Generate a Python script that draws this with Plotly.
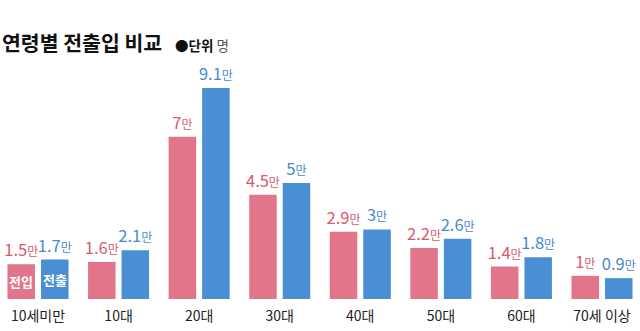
import plotly.graph_objects as go

categories = ["10세미만", "10대", "20대", "30대", "40대", "50대", "60대", "70세 이상"]
move_in = [1.5, 1.6, 7, 4.5, 2.9, 2.2, 1.4, 1]
move_out = [1.7, 2.1, 9.1, 5, 3, 2.6, 1.8, 0.9]
series_names = ["전입", "전출"]
title_text = "연령별 전출입 비교"
unit_text = "●단위"
unit_word = "명"

PINK_BAR = "#e3758a"
BLUE_BAR = "#4a8fd3"
PINK_TXT = "#d65a6c"
BLUE_TXT = "#4889cb"
FONT = "Noto Sans CJK KR"


def fmt(v):
    s = ("%g" % v)
    return s + "<span style='font-size:12px'>만</span>"


fig = go.Figure()
for vals, bar_c, txt_c, name in [(move_in, PINK_BAR, PINK_TXT, series_names[0]),
                                  (move_out, BLUE_BAR, BLUE_TXT, series_names[1])]:
    fig.add_trace(go.Bar(
        x=categories, y=vals, name=name,
        marker=dict(color=bar_c, line=dict(width=0)),
        text=[fmt(v) for v in vals],
        textposition="outside",
        textfont=dict(family=FONT, size=16.5, color=txt_c),
        constraintext="none",
        cliponaxis=False,
        hoverinfo="skip",
    ))

fig.update_layout(
    width=640, height=331,
    margin=dict(l=0, r=0, t=50, b=32),
    paper_bgcolor="white", plot_bgcolor="white",
    barmode="group", bargap=0.168, bargroupgap=0.179,
    showlegend=False,
    font=dict(family=FONT),
    xaxis=dict(type="category", range=[-0.4716, 7.4717], showgrid=False,
               zeroline=False, showline=False, ticks="", ticklabelstandoff=7,
               tickfont=dict(family=FONT, size=14, color="#222222")),
    yaxis=dict(range=[0, 10.74], visible=False, showgrid=False, zeroline=False),
)

H = 331 - 50 - 32


def py(pix):
    return (331 - 32 - pix) / H


fig.add_annotation(text="<b>" + title_text + "</b>", x=0, y=py(42), xref="paper", yref="paper",
                   xanchor="left", yanchor="middle", showarrow=False,
                   font=dict(family=FONT, size=20.5, color="#111111"))
fig.add_annotation(text="<b>" + unit_text + "</b> <span style='color:#555555'>" + unit_word + "</span>",
                   x=173 / 640, y=py(45), xref="paper", yref="paper",
                   xanchor="left", yanchor="middle", showarrow=False,
                   font=dict(family=FONT, size=13.5, color="#111111"))
fig.add_annotation(text="<b>" + series_names[0] + "</b>", x=0, xshift=-17, y=move_in[0] / 2,
                   xref="x", yref="y", showarrow=False,
                   font=dict(family=FONT, size=13, color="white"))
fig.add_annotation(text="<b>" + series_names[1] + "</b>", x=0, xshift=17, y=move_out[0] / 2,
                   xref="x", yref="y", showarrow=False,
                   font=dict(family=FONT, size=13, color="white"))

fig.write_html("out.html")
